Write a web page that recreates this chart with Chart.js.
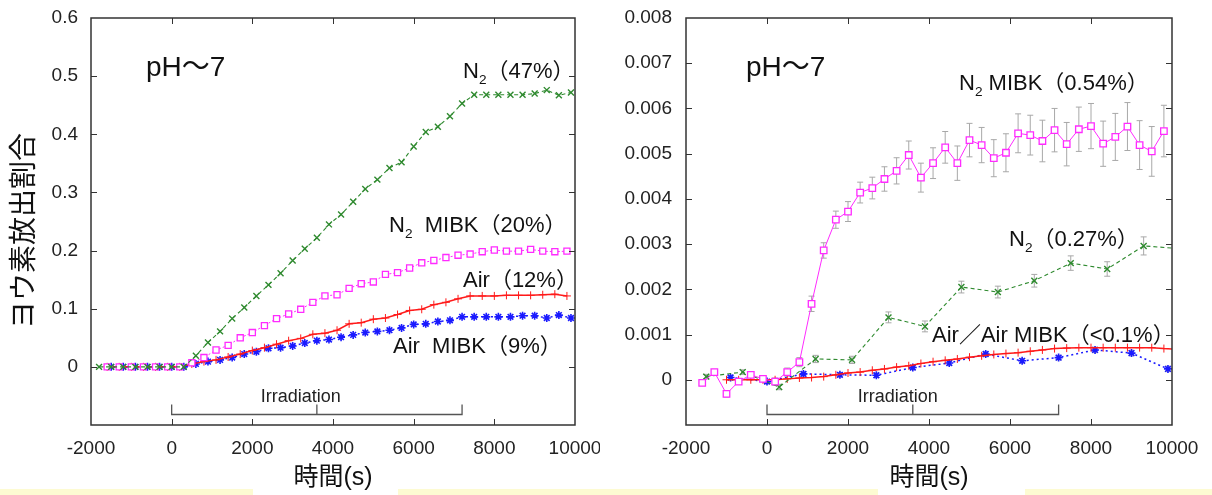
<!DOCTYPE html>
<html>
<head>
<meta charset="utf-8">
<script src="https://cdn.jsdelivr.net/npm/chart.js@4.4.1/dist/chart.umd.min.js"></script>
<style>
body { margin: 0; background: #fff; width: 1212px; height: 495px; overflow: hidden; position: relative; }
#left { position: absolute; left: 0; top: 0; }
#right { position: absolute; left: 600px; top: 0; }
.band { position: absolute; top: 489px; height: 6px; background: #fdfbd2; }
</style>
</head>
<body>
<canvas id="left" width="600" height="495"></canvas>
<canvas id="right" width="612" height="495"></canvas>
<div class="band" style="left:0;width:253px"></div>
<div class="band" style="left:398px;width:480px"></div>
<div class="band" style="left:1025px;width:187px"></div>
<script>
// left panel (0 - 0.6)
const leftTimeN2 = [-1800, -1500, -1200, -900, -600, -300, 0, 300, 600, 900, 1200, 1500, 1800, 2100, 2400, 2700, 3000, 3300, 3600, 3900, 4200, 4500, 4800, 5100, 5400, 5700, 6000, 6300, 6600, 6900, 7200, 7500, 7800, 8100, 8400, 8700, 9000, 9300, 9600, 9900];
const leftN2 = [0, 0, 0, 0, 0, 0, 0, 0, 0.019, 0.042, 0.061, 0.083, 0.102, 0.122, 0.141, 0.161, 0.183, 0.203, 0.222, 0.245, 0.262, 0.284, 0.306, 0.322, 0.342, 0.352, 0.379, 0.404, 0.413, 0.431, 0.453, 0.468, 0.468, 0.468, 0.468, 0.468, 0.470, 0.476, 0.467, 0.472];

const leftTimeMibk = [-1600, -1300, -1000, -700, -400, -100, 200, 500, 800, 1100, 1400, 1700, 2000, 2300, 2600, 2900, 3200, 3500, 3800, 4100, 4400, 4700, 5000, 5300, 5600, 5900, 6200, 6500, 6800, 7100, 7400, 7700, 8000, 8300, 8600, 8900, 9200, 9500, 9800];
const leftN2Mibk = [0, 0, 0, 0, 0, 0, 0, 0.007, 0.016, 0.029, 0.037, 0.050, 0.059, 0.071, 0.083, 0.091, 0.099, 0.111, 0.122, 0.124, 0.135, 0.143, 0.146, 0.159, 0.162, 0.170, 0.179, 0.183, 0.188, 0.192, 0.194, 0.198, 0.201, 0.199, 0.199, 0.202, 0.199, 0.198, 0.199];
const leftAir = [0, 0, 0, 0, 0, 0, 0, 0.005, 0.009, 0.012, 0.017, 0.022, 0.028, 0.033, 0.039, 0.045, 0.049, 0.056, 0.058, 0.063, 0.074, 0.076, 0.082, 0.084, 0.090, 0.097, 0.099, 0.107, 0.111, 0.117, 0.122, 0.122, 0.122, 0.123, 0.123, 0.123, 0.124, 0.125, 0.122];

const leftTimeAirMibk = [-1500, -1200, -900, -600, -300, 0, 300, 600, 900, 1200, 1500, 1800, 2100, 2400, 2700, 3000, 3300, 3600, 3900, 4200, 4500, 4800, 5100, 5400, 5700, 6000, 6300, 6600, 6900, 7200, 7500, 7800, 8100, 8400, 8700, 9000, 9300, 9600, 9900];
const leftAirMibk = [0, 0, 0, 0, 0, 0, 0, 0.005, 0.009, 0.012, 0.016, 0.022, 0.026, 0.032, 0.033, 0.036, 0.041, 0.045, 0.047, 0.051, 0.055, 0.059, 0.061, 0.063, 0.067, 0.073, 0.074, 0.078, 0.080, 0.086, 0.086, 0.086, 0.086, 0.086, 0.088, 0.088, 0.084, 0.089, 0.084];

// right panel (0 - 0.008)
const rightTimeMibk = [-1600, -1300, -1000, -700, -400, -100, 200, 500, 800, 1100, 1400, 1700, 2000, 2300, 2600, 2900, 3200, 3500, 3800, 4100, 4400, 4700, 5000, 5300, 5600, 5900, 6200, 6500, 6800, 7100, 7400, 7700, 8000, 8300, 8600, 8900, 9200, 9500, 9800];
const rightN2Mibk = [-0.00007, 0.00017, -0.00031, -0.00004, 0.00011, 0.00002, -0.00004, 0.00017, 0.00039, 0.00168, 0.00286, 0.00354, 0.00372, 0.00414, 0.00424, 0.00444, 0.00462, 0.00497, 0.00447, 0.00479, 0.00514, 0.00479, 0.00530, 0.00519, 0.00490, 0.00502, 0.00545, 0.00541, 0.00528, 0.00552, 0.00521, 0.00554, 0.00561, 0.00522, 0.00537, 0.00560, 0.00519, 0.00505, 0.00550];
const rightN2MibkErr = [0.00006, 0.00006, 0.00007, 0.00006, 0.00006, 0.00006, 0.00008, 0.00009, 0.0001, 0.00017, 0.00017, 0.00019, 0.00022, 0.00023, 0.00024, 0.00027, 0.00029, 0.00031, 0.00032, 0.00034, 0.00035, 0.00038, 0.00037, 0.00039, 0.00041, 0.00042, 0.00043, 0.00044, 0.00046, 0.00048, 0.00048, 0.00049, 0.0005, 0.0005, 0.00052, 0.00053, 0.00054, 0.00055, 0.00057];

const rightTimeN2 = [-1500, -600, 300, 1200, 2100, 3000, 3900, 4800, 5700, 6600, 7500, 8400, 9300, 10200];
const rightN2 = [0.00007, 0.00017, -0.00016, 0.00046, 0.00044, 0.00138, 0.00118, 0.00205, 0.00194, 0.00219, 0.00258, 0.00245, 0.00296, 0.0029];
const rightN2Err = [0.00005, 0.00005, 0.00006, 0.00008, 0.00008, 0.00012, 0.00012, 0.00013, 0.00013, 0.00014, 0.00016, 0.00016, 0.0002, 0.0002];

const rightTimeAir = [-1000, -700, -400, -100, 200, 500, 800, 1100, 1400, 1700, 2000, 2300, 2600, 2900, 3200, 3500, 3800, 4100, 4400, 4700, 5000, 5300, 5600, 5900, 6200, 6500, 6800, 7100, 7400, 7700, 8000, 8300, 8600, 8900, 9200, 9500, 9800, 10100];
const rightAir = [0, 0, 0, 0, 0, 0.00002, 0.00004, 0.00005, 0.00007, 0.00011, 0.00015, 0.00017, 0.00021, 0.00024, 0.00028, 0.00031, 0.00036, 0.0004, 0.00043, 0.00046, 0.0005, 0.00053, 0.00056, 0.00058, 0.0006, 0.00063, 0.00066, 0.00069, 0.0007, 0.00071, 0.00071, 0.00071, 0.00071, 0.00071, 0.00071, 0.00071, 0.00069, 0.00068];

const rightTimeAirMibk = [-900, 0, 900, 1800, 2700, 3600, 4500, 5400, 6300, 7200, 8100, 9000, 9900];
const rightAirMibk = [0.00005, -0.00004, 0.00013, 0.00011, 0.0001, 0.00027, 0.00037, 0.00057, 0.00042, 0.00049, 0.00066, 0.00059, 0.00024];
const rightAirMibkErr = [0.00005, 0.00005, 0.00005, 0.00005, 0.00005, 0.00005, 0.00005, 0.00005, 0.00005, 0.00005, 0.00006, 0.00006, 0.00006];

const xTickStep = 2000;
const irradiationStart = 0;
const irradiationEnd = 7200;

const FONT = '"Liberation Sans", "Noto Sans CJK JP", sans-serif';
Chart.defaults.font.family = FONT;
Chart.defaults.color = "#222";

function pts(xs, ys) {
    return xs.map((x, i) => ({ x: x, y: ys[i] }));
}

const styles = {
    n2: { borderColor: "#2f8a2f", borderDash: [4, 3], borderWidth: 1.1, pointStyle: "crossRot", pointRadius: 4.2, pointBorderWidth: 1.4, pointBorderColor: "#2f8a2f" },
    mibk: { borderColor: "#ff2bff", borderDash: [2, 2], borderWidth: 1, pointStyle: "rect", pointRadius: 4.3, pointBorderWidth: 1.3, pointBorderColor: "#ff2bff", pointBackgroundColor: "#fff" },
    air: { borderColor: "#ff1a1a", borderWidth: 1.5, pointStyle: "cross", pointRadius: 4, pointBorderWidth: 1, pointBorderColor: "#ff1a1a" },
    airMibk: { borderColor: "#1a1aff", borderDash: [2, 3], borderWidth: 1.5, pointStyle: "star", pointRadius: 4, pointBorderWidth: 1.6, pointBorderColor: "#1a1aff" },
};

// gnuplot-like frame with inward ticks on four sides
const frameTicks = {
    id: "frameTicks",
    afterDatasetsDraw(chart) {
        const { ctx, chartArea: a, scales: { x, y } } = chart;
        ctx.save();
        ctx.strokeStyle = "#333";
        ctx.lineWidth = 1;
        ctx.beginPath();
        x.ticks.forEach((t) => {
            const px = Math.round(x.getPixelForValue(t.value)) + 0.5;
            if (px <= a.left + 2 || px >= a.right - 2) return;
            ctx.moveTo(px, a.bottom); ctx.lineTo(px, a.bottom - 6);
            ctx.moveTo(px, a.top); ctx.lineTo(px, a.top + 6);
        });
        y.ticks.forEach((t) => {
            const py = Math.round(y.getPixelForValue(t.value)) + 0.5;
            if (py <= a.top + 2 || py >= a.bottom - 2) return;
            ctx.moveTo(a.left, py); ctx.lineTo(a.left + 6, py);
            ctx.moveTo(a.right, py); ctx.lineTo(a.right - 6, py);
        });
        ctx.stroke();
        ctx.lineWidth = 1.5;
        ctx.strokeRect(a.left, a.top, a.width, a.height);
        ctx.restore();
    },
};

// grey error bars from dataset.errorBars
const errorBars = {
    id: "errorBars",
    beforeDatasetsDraw(chart) {
        const { ctx, chartArea: a, scales: { y } } = chart;
        ctx.save();
        ctx.beginPath();
        ctx.rect(a.left, a.top, a.width, a.height);
        ctx.clip();
        ctx.strokeStyle = "#a8a8a8";
        ctx.lineWidth = 1;
        chart.data.datasets.forEach((ds, i) => {
            if (!ds.errorBars) return;
            const meta = chart.getDatasetMeta(i);
            meta.data.forEach((el, j) => {
                const v = ds.data[j].y;
                const e = ds.errorBars[j];
                const t = y.getPixelForValue(v + e);
                const b = y.getPixelForValue(v - e);
                const px = el.x;
                ctx.beginPath();
                ctx.moveTo(px, t); ctx.lineTo(px, b);
                ctx.moveTo(px - 3, t); ctx.lineTo(px + 3, t);
                ctx.moveTo(px - 3, b); ctx.lineTo(px + 3, b);
                ctx.stroke();
            });
        });
        ctx.restore();
    },
};

function drawParts(ctx, parts, x, y, size) {
    let cx = x;
    parts.forEach((p) => {
        const s = p.sub ? size * 0.62 : size;
        ctx.font = s + "px " + FONT;
        ctx.fillText(p.t, cx, y + (p.sub ? size * 0.28 : 0));
        cx += ctx.measureText(p.t).width;
    });
}

// text labels, rotated y title and irradiation bracket
const notes = {
    id: "notes",
    afterDraw(chart, args, opts) {
        const { ctx, chartArea: a, scales: { x } } = chart;
        ctx.save();
        ctx.fillStyle = "#111";
        ctx.textBaseline = "alphabetic";
        ctx.textAlign = "left";
        (opts.labels || []).forEach((l) => drawParts(ctx, l.parts, l.x, l.y, l.size));

        if (opts.yTitle) {
            ctx.save();
            ctx.translate(opts.yTitle.x, opts.yTitle.y);
            ctx.rotate(-Math.PI / 2);
            ctx.font = opts.yTitle.size + "px " + FONT;
            ctx.textAlign = "center";
            ctx.textBaseline = "middle";
            ctx.fillText(opts.yTitle.text, 0, 0);
            ctx.restore();
        }

        const x0 = x.getPixelForValue(irradiationStart);
        const x1 = x.getPixelForValue(irradiationEnd);
        const xm = x.getPixelForValue((irradiationStart + irradiationEnd) / 2);
        const ly = Math.round(a.bottom - 11) + 0.5;
        ctx.strokeStyle = "#555";
        ctx.lineWidth = 1.3;
        ctx.beginPath();
        ctx.moveTo(x0, ly - 10); ctx.lineTo(x0, ly); ctx.lineTo(x1, ly); ctx.lineTo(x1, ly - 10);
        ctx.moveTo(xm, ly); ctx.lineTo(xm, ly - 10);
        ctx.stroke();
        ctx.font = "18px " + FONT;
        ctx.textAlign = "center";
        ctx.fillStyle = "#222";
        ctx.fillText("Irradiation", x.getPixelForValue(opts.irrTextAt), a.bottom - 23);
        ctx.restore();
    },
};

function makeChart(id, datasets, yOpts, padRight, yWidth, labels, irrTextAt, yTitle) {
    return new Chart(document.getElementById(id), {
        type: "line",
        data: { datasets },
        plugins: [errorBars, frameTicks, notes],
        options: {
            responsive: false,
            animation: false,
            layout: { padding: { left: 0, right: padRight, top: 18, bottom: 0 } },
            elements: { line: { tension: 0 } },
            scales: {
                x: {
                    type: "linear",
                    min: -2000,
                    max: 10000,
                    grid: { display: false, drawTicks: false },
                    border: { display: false },
                    ticks: { stepSize: xTickStep, padding: 12, font: { size: 19 }, maxRotation: 0, autoSkip: false, callback: (v) => String(v) },
                    title: { display: true, text: "時間(s)", font: { size: 25 }, color: "#111", padding: { top: 0, bottom: 2 } },
                    afterFit: (s) => { s.height = 70; s.paddingLeft = 0; s.paddingRight = 0; },
                },
                y: Object.assign({
                    grid: { display: false, drawTicks: false },
                    border: { display: false },
                    afterFit: (s) => { s.width = yWidth; s.paddingTop = 0; s.paddingBottom = 0; },
                }, yOpts),
            },
            plugins: {
                legend: { display: false },
                tooltip: { enabled: false },
                notes: { labels, irrTextAt, yTitle },
            },
        },
    });
}

const N2 = [{ t: "N" }, { t: "2", sub: true }];

makeChart("left", [
    Object.assign({ data: pts(leftTimeN2, leftN2) }, styles.n2),
    Object.assign({ data: pts(leftTimeMibk, leftN2Mibk) }, styles.mibk),
    Object.assign({ data: pts(leftTimeMibk, leftAir) }, styles.air),
    Object.assign({ data: pts(leftTimeAirMibk, leftAirMibk) }, styles.airMibk),
], {
    min: -0.1,
    max: 0.6,
    ticks: { stepSize: 0.1, padding: 13, font: { size: 19 }, callback: (v) => (v < -1e-9 ? "" : Math.abs(v) < 1e-9 ? "0" : v.toFixed(1)) },
}, 25, 91, [
    { parts: [{ t: "pH～7" }], x: 146, y: 76, size: 28 },
    { parts: N2.concat([{ t: "（47%）" }]), x: 463, y: 78, size: 22 },
    { parts: N2.concat([{ t: "  MIBK（20%）" }]), x: 389, y: 232, size: 22 },
    { parts: [{ t: "Air（12%）" }], x: 463, y: 287, size: 22 },
    { parts: [{ t: "Air  MIBK（9%）" }], x: 393, y: 353, size: 22 },
], 3200, { text: "ヨウ素放出割合", x: 25, y: 231, size: 28 });

makeChart("right", [
    Object.assign({ data: pts(rightTimeMibk, rightN2Mibk), errorBars: rightN2MibkErr }, styles.mibk, { borderDash: [], pointRadius: 4.6 }),
    Object.assign({ data: pts(rightTimeN2, rightN2), errorBars: rightN2Err }, styles.n2),
    Object.assign({ data: pts(rightTimeAir, rightAir) }, styles.air),
    Object.assign({ data: pts(rightTimeAirMibk, rightAirMibk), errorBars: rightAirMibkErr }, styles.airMibk),
], {
    min: -0.001,
    max: 0.008,
    ticks: { stepSize: 0.001, padding: 14, font: { size: 19 }, callback: (v) => (v < -1e-9 ? "" : Math.abs(v) < 1e-9 ? "0" : v.toFixed(3)) },
}, 40, 86, [
    { parts: [{ t: "pH～7" }], x: 146, y: 76, size: 28 },
    { parts: N2.concat([{ t: " MIBK（0.54%）" }]), x: 359, y: 90, size: 22 },
    { parts: N2.concat([{ t: "（0.27%）" }]), x: 409, y: 246, size: 22 },
    { parts: [{ t: "Air／Air MIBK（<0.1%）" }], x: 332, y: 342, size: 22 },
], 3230, null);
</script>
</body>
</html>
